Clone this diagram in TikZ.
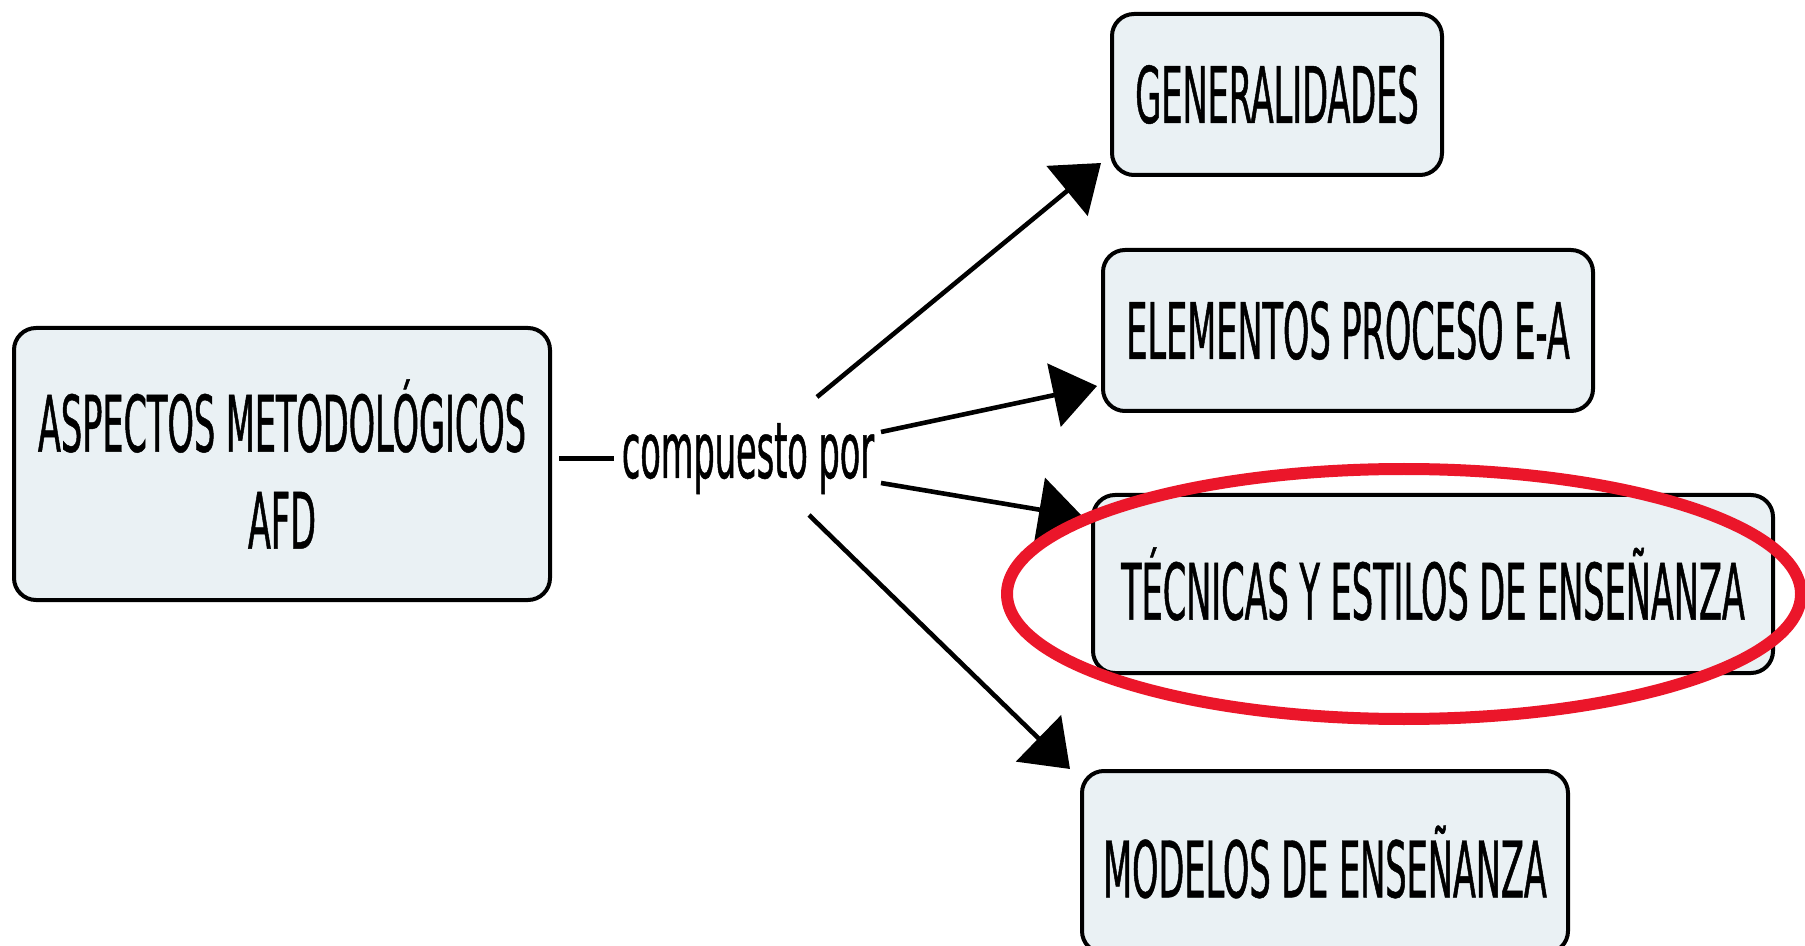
\documentclass[tikz,border=0pt]{standalone}
\usepackage{fontspec}
\newfontfamily\mapfont[FakeStretch=0.43,FakeBold=0.6]{DejaVu Sans}
\usetikzlibrary{arrows.meta}
\definecolor{boxfill}{RGB}{234,241,244}
\definecolor{hlred}{RGB}{235,22,42}
\begin{document}
\begin{tikzpicture}[x=0.5pt,y=-0.5pt,
  concept/.style={draw=black, line width=2pt, fill=boxfill, rounded corners=11pt,
    inner sep=0pt, font=\mapfont\fontsize{39}{48.5}\selectfont, align=center},
  conn/.style={line width=2.3pt, draw=black},
  arr/.style={conn, -{Triangle[length=22pt,width=32pt]}},
  linktext/.style={font=\mapfont\fontsize{39}{48.5}\selectfont, inner xsep=3.5pt, inner ysep=0pt},
  hlring/.style={draw=hlred, line width=6pt}]
\useasboundingbox (0,0) rectangle (1805,946);
\fill[white] (0,0) rectangle (1805,946);
\clip (0,0) rectangle (1805,946);

\node[concept, minimum width=268pt, minimum height=136pt] (asp) at (282,464) {ASPECTOS METODOLÓGICOS\\AFD};
\node[concept, minimum width=165pt, minimum height=80.5pt] (gen) at (1277,94.5) {GENERALIDADES};
\node[concept, minimum width=245pt, minimum height=80.5pt] (elem) at (1348,330.5) {ELEMENTOS PROCESO E-A};
\node[concept, minimum width=340pt, minimum height=89pt] (tec) at (1433,584) {TÉCNICAS Y ESTILOS DE ENSEÑANZA};
\node[concept, minimum width=243pt, minimum height=91pt] (mod) at (1325,862) {MODELOS DE ENSEÑANZA};

\node[linktext, anchor=base] (lbl) at (748,478) {compuesto por};

\draw[conn] (asp.east |- lbl.west) ++(7,0) -- (lbl.west);
\draw[arr] ([shift={(69,-81)}]lbl.base) -- ([shift={(-9,-14)}]gen.south west);
\draw[arr] ([shift={(133,-46)}]lbl.base) -- ([shift={(-4,-27)}]elem.south west);
\draw[arr] ([shift={(133,5)}]lbl.base) -- ([shift={(-8,24)}]tec.north west);
\draw[arr] ([shift={(61,37)}]lbl.base) -- ([shift={(-10,0)}]mod.north west);

\draw[hlring] (tec.center) ++(-29,10) ellipse [x radius=198.5pt, y radius=62.5pt];
\end{tikzpicture}
\end{document}
